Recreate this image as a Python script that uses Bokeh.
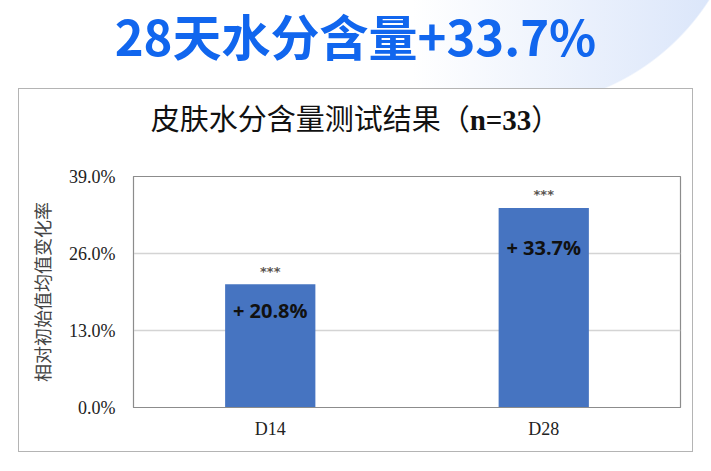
from bokeh.plotting import figure
from bokeh.models import FixedTicker, ColumnDataSource, LabelSet, Div
from bokeh.layouts import column
from bokeh.core.properties import value
from bokeh.embed import file_html
from bokeh.resources import INLINE

# ---- data ----
categories = ["D14", "D28"]
values = [20.8, 33.7]
value_labels = ["+ 20.8%", "+ 33.7%"]
sig_labels = ["***", "***"]
y_ticks = [0, 13, 26, 39]
y_tick_labels = ["0.0%", "13.0%", "26.0%", "39.0%"]
banner_title = "28天水分含量+33.7%"
chart_title_main = "皮肤水分含量测试结果（"
chart_title_n = "n=33"
chart_title_end = "）"
y_axis_title = "相对初始值均值变化率"

W = 711
BOX_W = 673

# ---- banner ----
banner = Div(
    text=(f'<div style="width:{W}px;height:88px;margin:0;padding:8px 0 0 0;box-sizing:border-box;'
          f'text-align:center;white-space:nowrap;'
          f'font-family:\'Noto Sans CJK SC\';font-weight:bold;font-size:49px;'
          f'line-height:54px;color:#1166EE;">{banner_title}</div>'),
    width=W, height=88,
    styles={"background": "radial-gradient(circle 232px at 514px -125px, rgba(255,255,255,0) 231px, #ffffff 232.5px), "
                          "linear-gradient(to right, #ffffff 58%, #dbe6fa 100%)",
            "margin": "0", "padding": "0", "overflow": "visible"})

# ---- chart title ----
title_div = Div(
    text=(f'<div style="width:{BOX_W}px;height:58px;margin:0;padding:0;text-align:center;white-space:nowrap;'
          f'line-height:56px;color:#111111;font-size:29px;">'
          f'<span style="font-family:\'Noto Sans CJK SC\';">{chart_title_main}</span>'
          f'<span style="font-family:\'Liberation Serif\';font-weight:bold;">{chart_title_n}</span>'
          f'<span style="font-family:\'Noto Sans CJK SC\';">{chart_title_end}</span></div>'),
    width=BOX_W, height=58, styles={"margin": "0", "padding": "0", "background": "white"})

# ---- figure ----
FH = 304
p = figure(width=BOX_W, height=FH, x_range=categories, y_range=(0, 39),
           output_backend="svg", toolbar_location=None,
           min_border_left=114, min_border_right=12,
           min_border_top=29, min_border_bottom=44)
p.background_fill_color = "white"
p.border_fill_color = "white"
p.outline_line_color = "#8c8c8c"
p.outline_line_width = 1.2

src = ColumnDataSource(dict(cat=categories, val=values, lab=value_labels, sig=sig_labels,
                            dy=[-26, -40]))
p.vbar(x="cat", top="val", width=0.33, source=src, fill_color="#4674C1", line_color=None)

p.add_layout(LabelSet(x="cat", y="val", text="lab", source=src, y_offset="dy",
                      text_align="center", text_baseline="middle",
                      text_font=value("Open Sans"), text_font_style="bold",
                      text_font_size="20px", text_color="#111111"))
p.add_layout(LabelSet(x="cat", y="val", text="sig", source=src, y_offset=13,
                      text_align="center", text_baseline="middle",
                      text_font=value("DejaVu Sans"), text_font_style="bold",
                      text_font_size="13px", text_color="#5a5550"))

p.yaxis.ticker = FixedTicker(ticks=y_ticks)
p.yaxis.major_label_overrides = {t: l for t, l in zip(y_ticks, y_tick_labels)}
p.yaxis.major_label_text_font = "Liberation Serif"
p.yaxis.major_label_text_font_size = "18px"
p.yaxis.major_label_text_color = "#222222"
p.yaxis.major_tick_line_color = None
p.yaxis.minor_tick_line_color = None
p.yaxis.axis_line_color = "#8c8c8c"
p.yaxis.major_label_standoff = 12
p.yaxis.axis_label = y_axis_title
p.yaxis.axis_label_text_font = "Noto Sans CJK SC"
p.yaxis.axis_label_text_font_style = "normal"
p.yaxis.axis_label_text_font_size = "18px"
p.yaxis.axis_label_text_color = "#444444"
p.yaxis.axis_label_standoff = 11

p.xaxis.major_label_text_font = "Liberation Serif"
p.xaxis.major_label_text_font_size = "18px"
p.xaxis.major_label_text_color = "#222222"
p.xaxis.major_tick_line_color = None
p.xaxis.axis_line_color = "#8c8c8c"
p.xaxis.major_label_standoff = 5

p.xgrid.grid_line_color = None
p.ygrid.grid_line_color = "#d4d4d4"
p.ygrid.grid_line_width = 1.5

box = column(title_div, p, spacing=0,
             styles={"border": "1.5px solid #b4b4b4", "margin-left": "18px",
                     "background": "white"})
layout = column(banner, box, spacing=0, styles={"background": "white"})

open("out.html", "w").write(file_html(layout, INLINE))
